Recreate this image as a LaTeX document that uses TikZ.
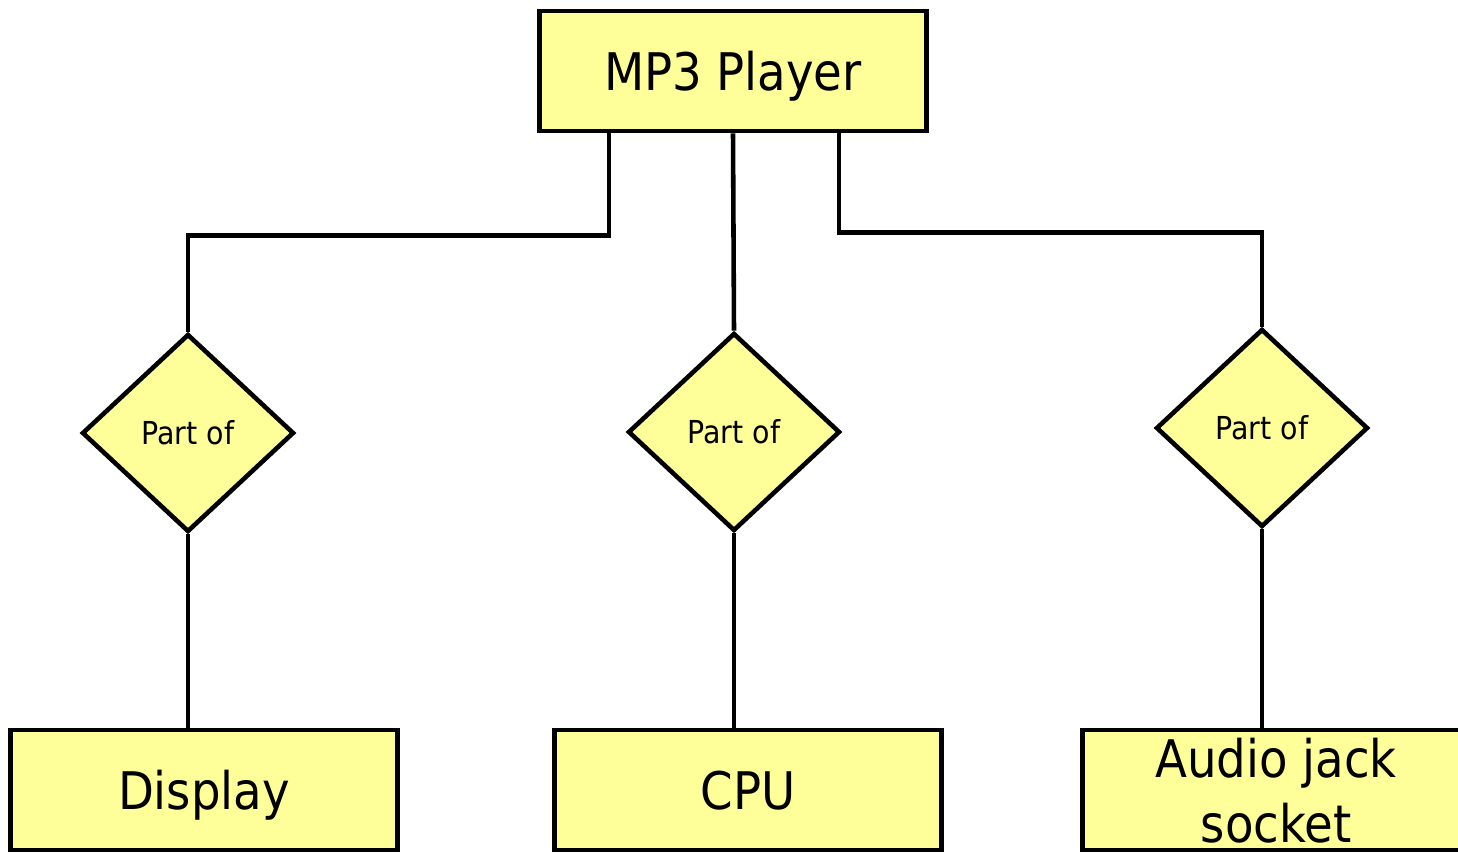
\documentclass[tikz,border=0pt]{standalone}
\usepackage{fontspec}
\setmainfont{DejaVu Sans Condensed}
\usepackage{tikz}
\usetikzlibrary{shapes.geometric, positioning}

\definecolor{partfill}{HTML}{FFFF99}

\tikzset{
	thing/.style={draw, line width=2.6pt, fill=partfill, rectangle, minimum width=7.74cm, minimum height=2.4cm, inner sep=0pt, text depth=0pt, font=\fontsize{29.5}{37}\selectfont, align=center},
	partof/.style={draw, line width=2.6pt, fill=partfill, diamond, minimum width=4.24cm, minimum height=3.96cm, inner sep=0pt, font=\fontsize{18}{22}\selectfont},
	link/.style={line width=2.6pt}
}

\begin{document}
\begin{tikzpicture}[x=0.02cm, y=-0.02cm]
		\useasboundingbox (0,0) rectangle (1458,854);
		\clip (0,0) rectangle (1458,854);
		% whole and its parts
		\node[thing] (mp3) at (733,71) {MP3 Player};
		\node[partof] (d1) at (188,433) {Part of};
		\node[partof] (d2) at (734,432) {Part of};
		\node[partof] (d3) at (1262,428) {Part of};
		\node[thing] (disp) at (204,790) {Display};
		\node[thing] (cpu) at (748,790) {CPU};
		\node[thing] (jack) at (1276,790) {Audio jack\\socket};
		% links up to the whole
		\draw[link] ([xshift=-2.48cm]mp3.south) -- ++(0,102) -| (d1.north);
		\draw[link] (mp3.south) -- (d2.north);
		\draw[link] ([xshift=2.12cm]mp3.south) -- ++(0,99) -| (d3.north);
		% links down to the parts
		\draw[link] (d1.south) -- (d1.south |- disp.north);
		\draw[link] (d2.south) -- (d2.south |- cpu.north);
		\draw[link] (d3.south) -- (d3.south |- jack.north);
	\end{tikzpicture}
\end{document}
